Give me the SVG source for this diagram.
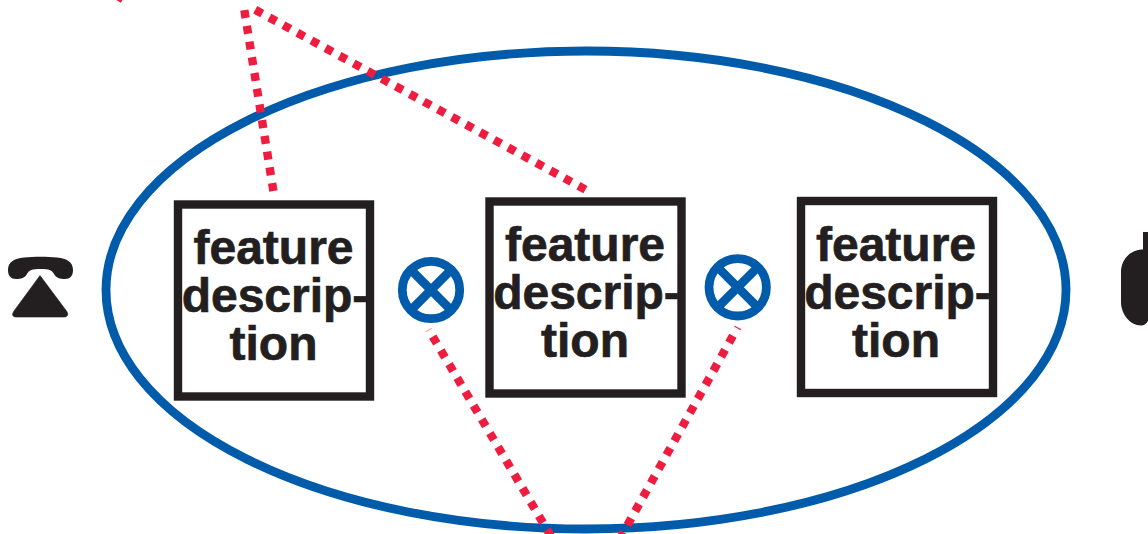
<svg xmlns="http://www.w3.org/2000/svg" width="1148" height="534" viewBox="0 0 1148 534">
  <style>
    .box { fill: #fff; stroke: #231f20; stroke-width: 8.4; }
    .lbl { font-family: "Liberation Sans", Arial, sans-serif; font-weight: 700; font-size: 48px; fill: #231f20; stroke: #231f20; stroke-width: 0.7; text-anchor: middle; }
    .ring { fill: none; stroke: #005baa; stroke-width: 8.8; }
    .dot { fill: none; stroke: #ee1c3e; stroke-width: 8.4; }
    .sliver { stroke: #ee1c3e; stroke-width: 1.2; }
    .icon { fill: #231f20; }
  </style>
  <rect width="1148" height="534" fill="#fff"/>
  <g id="boundary">
    <ellipse class="ring" cx="586" cy="290" rx="480" ry="239"/>
  </g>
  <g id="node-1">
    <rect class="box" x="178" y="204.500" width="192" height="192"/>
    <text class="lbl" x="273.500" y="264">feature</text>
    <text class="lbl" x="275" y="312">descrip-</text>
    <text class="lbl" x="273.500" y="360">tion</text>
  </g>
  <g id="node-2">
    <rect class="box" x="489.500" y="201.500" width="192" height="192"/>
    <text class="lbl" x="585" y="261">feature</text>
    <text class="lbl" x="586.500" y="309">descrip-</text>
    <text class="lbl" x="585" y="357">tion</text>
  </g>
  <g id="node-3">
    <rect class="box" x="801" y="201" width="192" height="192"/>
    <text class="lbl" x="896" y="261">feature</text>
    <text class="lbl" x="897.500" y="309">descrip-</text>
    <text class="lbl" x="896" y="357">tion</text>
  </g>
  <g id="mixer-1">
    <circle class="ring" cx="431" cy="290" r="28.700"/>
    <path class="ring" d="M410.700 269.700L451.300 310.300M451.300 269.700L410.700 310.300"/>
  </g>
  <g id="mixer-2">
    <circle class="ring" cx="737.700" cy="287.300" r="28.700"/>
    <path class="ring" d="M717.400 267L758 307.600M758 267L717.400 307.600"/>
  </g>
  <g id="phone-left">
    <path class="icon" d="M8 270C8 262 14 258.500 24 257.500C34 256.500 47 256.500 57 257.500C67 258.500 73 262 73 270C73 276 70 279 65 279C60 279 56 278 54 274C52 270 49 269 40.500 269C32 269 29 270 27 274C25 278 21 279 16 279C11 279 8 276 8 270Z"/>
    <path class="icon" d="M40 275.500L66.500 311C69 314.500 67.500 317 64 317L16 317C12.500 317 11.500 314.500 14 311Z" stroke="#231f20" stroke-width="0.6" stroke-linejoin="round"/>
  </g>
  <g id="phone-right">
    <path class="icon" d="M1143 232L1148 232L1148 321C1146 324 1144 325.500 1141 325.500C1130 325.500 1121 314 1121 302L1121 272C1121 260 1130 249.500 1143 249.500Z"/>
  </g>
  <g id="connectors">
    <line class="dot" x1="273.400" y1="191" x2="244.300" y2="10" stroke-dasharray="8 7.930"/>
    <line class="dot" x1="255.200" y1="9.800" x2="585.500" y2="189.600" stroke-dasharray="8 8"/>
    <line class="dot" x1="116" y1="-5" x2="123" y2="-1"/>
    <line class="dot" x1="432.700" y1="336.600" x2="552" y2="538" stroke-dasharray="8 8.020"/>
    <line class="dot" x1="732.900" y1="335.800" x2="618" y2="542" stroke-dasharray="8 8.060"/>
    <line class="sliver" x1="425.700" y1="331.700" x2="431.700" y2="328.300" opacity="0.4"/>
    <line class="sliver" x1="734.500" y1="326.300" x2="741" y2="329.800"/>
  </g>
</svg>
